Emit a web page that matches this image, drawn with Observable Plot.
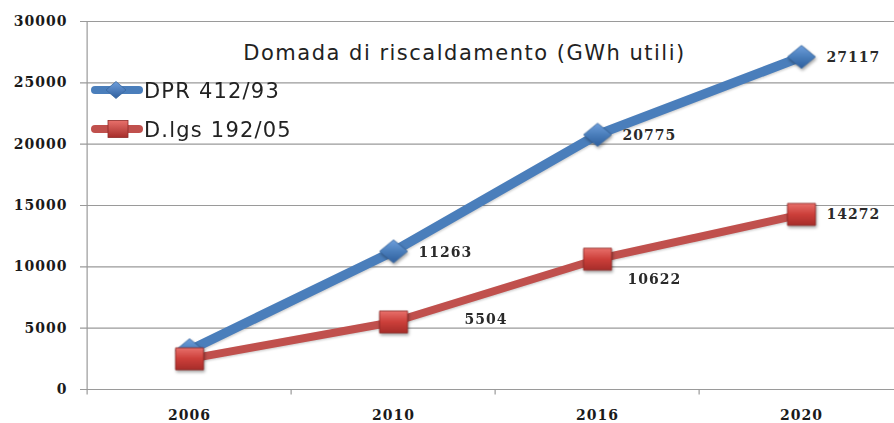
<!DOCTYPE html>
<html>
<head>
<meta charset="utf-8">
<script src="https://cdn.jsdelivr.net/npm/d3@7"></script>
<script src="https://cdn.jsdelivr.net/npm/@observablehq/plot@0.6"></script>
<style>
  html, body { margin: 0; padding: 0; background: #fff; }
  #wrap { position: relative; width: 894px; height: 423px; }
  #legend { position: absolute; left: 0; top: 0; pointer-events: none; }
  g[aria-label="dot"] { filter: drop-shadow(1.5px 2px 1.5px rgba(0,0,0,0.35)); }
  g[aria-label="line"] { filter: drop-shadow(1px 1.5px 1px rgba(0,0,0,0.2)); }
</style>
</head>
<body>
<div id="wrap"></div>
<script>
// ---- data ----
const years = ["2006", "2010", "2016", "2020"];
const dprValues = [3200, 11263, 20775, 27117];
const dlgsValues = [2500, 5504, 10622, 14272];
const seriesNames = ["DPR 412/93", "D.lgs 192/05"];
const yTicks = [0, 5000, 10000, 15000, 20000, 25000, 30000];
const titleText = "Domada di riscaldamento (GWh utili)";

// ---- styles ----
const BLUE = "#4a7ebb";
const RED = "#c0504d";
const GRID = "#9a9a9a";
const numFont = "DejaVu Serif";
const txtFont = "DejaVu Sans";

const dpr = years.map((year, i) => ({year, v: dprValues[i]}));
const dlgs = years.map((year, i) => ({year, v: dlgsValues[i]}));

const xRange = [85, 904];
const halfStep = (xRange[1] - xRange[0]) / years.length / 2;

const diamondSym = {draw(ctx) { const w = 14, h = 11.5; ctx.moveTo(0, -h); ctx.lineTo(w, 0); ctx.lineTo(0, h); ctx.lineTo(-w, 0); ctx.closePath(); }};
const squareSym = {draw(ctx) { ctx.rect(-14, -11, 28, 22); }};

const labelStyle = {fontFamily: numFont, fontSize: 14, fontWeight: "bold", fill: "#2a2a2a", textAnchor: "start"};

const chart = Plot.plot({
  width: 894,
  height: 423,
  marginLeft: 86,
  marginRight: 0,
  marginTop: 21,
  marginBottom: 34,
  style: {background: "#fff", overflow: "visible", letterSpacing: "1px"},
  x: {type: "point", domain: years, range: xRange, padding: 0.5, axis: null, label: null},
  y: {domain: [0, 30000], axis: null, label: null},
  marks: [
    Plot.ruleY(yTicks, {y: d => d, stroke: GRID, strokeWidth: 1.2, insetLeft: -6}),
    Plot.ruleX([years[0]], {x: d => d, dx: -halfStep, y1: -450, y2: 30000, stroke: GRID, strokeWidth: 1.2}),
    Plot.ruleX(years.slice(1), {x: d => d, dx: -halfStep, y1: -450, y2: 0, stroke: GRID, strokeWidth: 1.2}),
    Plot.axisY({ticks: yTicks, tickSize: 0, tickPadding: 19, tickFormat: d => String(d), label: null,
      fontFamily: numFont, fontSize: 14, fontWeight: "bold", fill: "#1a1a1a"}),
    Plot.axisX({tickSize: 0, tickPadding: 21, label: null, fontFamily: numFont, fontSize: 14, fontWeight: "bold", fill: "#1a1a1a"}),
    Plot.text([titleText], {frameAnchor: "top", dx: -26, dy: 24, fontFamily: txtFont, fontSize: 21, fill: "#222"}),
    Plot.line(dpr, {x: "year", y: "v", stroke: BLUE, strokeWidth: 9.5, strokeLinecap: "round", strokeLinejoin: "round"}),
    Plot.dot(dpr, {x: "year", y: "v", symbol: diamondSym, r: 10, fill: "url(#gBlue)", stroke: "#3a68a0", strokeWidth: 0.8}),
    Plot.line(dlgs, {x: "year", y: "v", stroke: RED, strokeWidth: 8, strokeLinecap: "round", strokeLinejoin: "round"}),
    Plot.dot(dlgs, {x: "year", y: "v", symbol: squareSym, r: 10, fill: "url(#gRed)", stroke: "#8e2a27", strokeWidth: 0.8}),
    Plot.text(dpr.slice(1), {x: "year", y: "v", text: d => String(d.v), dx: 25, dy: 1, ...labelStyle}),
    Plot.text([dlgs[1]], {x: "year", y: "v", text: d => String(d.v), dx: 71, dy: -2, ...labelStyle}),
    Plot.text([dlgs[2]], {x: "year", y: "v", text: d => String(d.v), dx: 30, dy: 20, ...labelStyle}),
    Plot.text([dlgs[3]], {x: "year", y: "v", text: d => String(d.v), dx: 25, dy: 0, ...labelStyle})
  ]
});

// gradients for markers
const defs = d3.select(chart).insert("defs", ":first-child");
const gb = defs.append("linearGradient").attr("id", "gBlue").attr("x1", 0).attr("y1", 0).attr("x2", 0).attr("y2", 1);
gb.append("stop").attr("offset", "0%").attr("stop-color", "#6f9fdc");
gb.append("stop").attr("offset", "50%").attr("stop-color", "#4a7ebb");
gb.append("stop").attr("offset", "100%").attr("stop-color", "#2f5f9e");
const gr = defs.append("linearGradient").attr("id", "gRed").attr("x1", 0).attr("y1", 0).attr("x2", 0).attr("y2", 1);
gr.append("stop").attr("offset", "0%").attr("stop-color", "#e8706b");
gr.append("stop").attr("offset", "50%").attr("stop-color", "#cc3f3a");
gr.append("stop").attr("offset", "100%").attr("stop-color", "#a62d2a");
// title spacing
d3.select(chart).selectAll("text").filter(function() { return this.textContent === titleText; }).style("letter-spacing", "1.5px");

const wrap = document.getElementById("wrap");
wrap.appendChild(chart);

// ---- legend (overlay) ----
const leg = d3.select(wrap).append("svg").attr("id", "legend").attr("width", 894).attr("height", 423);
const ldefs = leg.append("defs");
const lb = ldefs.append("linearGradient").attr("id", "lgBlue").attr("x1", 0).attr("y1", 0).attr("x2", 0).attr("y2", 1);
lb.append("stop").attr("offset", "0%").attr("stop-color", "#6f9fdc");
lb.append("stop").attr("offset", "100%").attr("stop-color", "#2f5f9e");
const lr = ldefs.append("linearGradient").attr("id", "lgRed").attr("x1", 0).attr("y1", 0).attr("x2", 0).attr("y2", 1);
lr.append("stop").attr("offset", "0%").attr("stop-color", "#e8706b");
lr.append("stop").attr("offset", "100%").attr("stop-color", "#a62d2a");

const legItems = [
  {name: seriesNames[0], color: BLUE, y: 90, shape: "diamond"},
  {name: seriesNames[1], color: RED, y: 129, shape: "square"}
];
legItems.forEach(it => {
  leg.append("line").attr("x1", 95).attr("x2", 139).attr("y1", it.y).attr("y2", it.y)
    .attr("stroke", it.color).attr("stroke-width", 8).attr("stroke-linecap", "round");
  if (it.shape === "diamond") {
    leg.append("path").attr("d", `M116,${it.y - 8.5}L126,${it.y}L116,${it.y + 8.5}L106,${it.y}Z`)
      .attr("fill", "url(#lgBlue)").attr("stroke", "#3a68a0").attr("stroke-width", 0.8);
  } else {
    leg.append("rect").attr("x", 108).attr("y", it.y - 8.5).attr("width", 20).attr("height", 17)
      .attr("fill", "url(#lgRed)").attr("stroke", "#8e2a27").attr("stroke-width", 0.8);
  }
  leg.append("text").attr("x", 144).attr("y", it.y + 8).attr("font-family", txtFont)
    .attr("font-size", 21).attr("letter-spacing", "1.2px").attr("fill", "#222").text(it.name);
});
</script>
</body>
</html>
